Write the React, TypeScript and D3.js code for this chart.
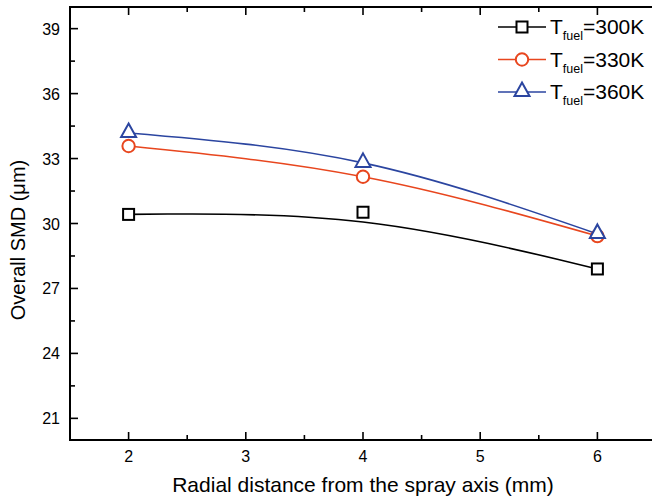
import React from "react";
import * as d3 from "d3";

const radial = [2, 4, 6];
const smd300 = [30.42, 30.52, 27.9];
const smd330 = [33.58, 32.16, 29.42];
const smd360 = [34.18, 32.8, 29.52];
const xMajor = [2, 3, 4, 5, 6];
const xMinor = [1.5, 2.5, 3.5, 4.5, 5.5];
const yMajor = [21, 24, 27, 30, 33, 36, 39];
const yMinor = [22.5, 25.5, 28.5, 31.5, 34.5, 37.5];
const legendTemps = ["300K", "330K", "360K"];

const W = 652, H = 498;
const L = 70, R = 656, T = 7, B = 440;
const font = "'Liberation Sans', Arial, Helvetica, sans-serif";

export default function App() {
  const x = d3.scaleLinear().domain([1.5, 6.5]).range([L, R]);
  const y = d3.scaleLinear().domain([20, 40]).range([B, T]);
  const pts = (ys: number[]) => radial.map((r, i) => [x(r), y(ys[i])] as [number, number]);
  const basis = d3.line().curve(d3.curveBasis);
  const natural = d3.line().curve(d3.curveNatural);

  const series = [
    { vals: smd300, color: "#000000", shape: "square", path: basis(pts(smd300)) },
    { vals: smd330, color: "#E8461E", shape: "circle", path: natural(pts(smd330)) },
    { vals: smd360, color: "#2B45A0", shape: "triangle", path: natural(pts(smd360)) },
  ];

  const marker = (shape: string, cx: number, cy: number, color: string, key: any) => {
    if (shape === "square")
      return <rect key={key} x={cx - 5.5} y={cy - 5.5} width={11} height={11} fill="white" stroke={color} strokeWidth={2} />;
    if (shape === "circle")
      return <circle key={key} cx={cx} cy={cy} r={6.2} fill="white" stroke={color} strokeWidth={2} />;
    const s = 7.5;
    return (
      <path key={key} d={`M${cx},${cy - 9.5} L${cx + s},${cy + 4} L${cx - s},${cy + 4} Z`} fill="white" stroke={color} strokeWidth={2} strokeLinejoin="miter" />
    );
  };

  return (
    <svg width={W} height={H} style={{ position: "absolute", left: 0, top: 0, background: "white" }} fontFamily={font}>
      <rect x={0} y={0} width={W} height={H} fill="white" />
      {series.map((s, i) => (
        <path key={"l" + i} d={s.path || ""} fill="none" stroke={s.color} strokeWidth={1.6} />
      ))}
      {series.map((s, i) => radial.map((r, j) => marker(s.shape, x(r), y(s.vals[j]), s.color, `m${i}-${j}`)))}
      {/* frame */}
      <rect x={L} y={T} width={R - L} height={B - T} fill="none" stroke="black" strokeWidth={2} />
      {/* x ticks */}
      {xMajor.map((v) => (
        <g key={"xm" + v}>
          <line x1={x(v)} x2={x(v)} y1={B} y2={B - 8} stroke="black" strokeWidth={1.6} />
          <line x1={x(v)} x2={x(v)} y1={T} y2={T + 8} stroke="black" strokeWidth={1.6} />
          <text x={x(v)} y={B + 22} textAnchor="middle" fontSize={16}>{v}</text>
        </g>
      ))}
      {xMinor.map((v) => (
        <g key={"xn" + v}>
          <line x1={x(v)} x2={x(v)} y1={B} y2={B - 5} stroke="black" strokeWidth={1.6} />
          <line x1={x(v)} x2={x(v)} y1={T} y2={T + 5} stroke="black" strokeWidth={1.6} />
        </g>
      ))}
      {yMajor.map((v) => (
        <g key={"ym" + v}>
          <line x1={L} x2={L + 8} y1={y(v)} y2={y(v)} stroke="black" strokeWidth={1.6} />
          <text x={60} y={y(v) + 6} textAnchor="end" fontSize={16}>{v}</text>
        </g>
      ))}
      {yMinor.map((v) => (
        <line key={"yn" + v} x1={L} x2={L + 5} y1={y(v)} y2={y(v)} stroke="black" strokeWidth={1.6} />
      ))}
      <text x={(L + R) / 2} y={492} textAnchor="middle" fontSize={21}>Radial distance from the spray axis (mm)</text>
      <text transform={`translate(25,240) rotate(-90)`} textAnchor="middle" fontSize={20}>Overall SMD (μm)</text>
      {/* legend */}
      {series.map((s, i) => {
        const ly = 27 + i * 32.5;
        return (
          <g key={"lg" + i}>
            <line x1={498} x2={546} y1={ly} y2={ly} stroke={s.color} strokeWidth={1.6} />
            {marker(s.shape, 522, ly, s.color, "lm" + i)}
            <text x={550} y={ly + 7} fontSize={21}>
              T<tspan fontSize={12.5} dy={6}>fuel</tspan><tspan dy={-6}>={legendTemps[i]}</tspan>
            </text>
          </g>
        );
      })}
    </svg>
  );
}
